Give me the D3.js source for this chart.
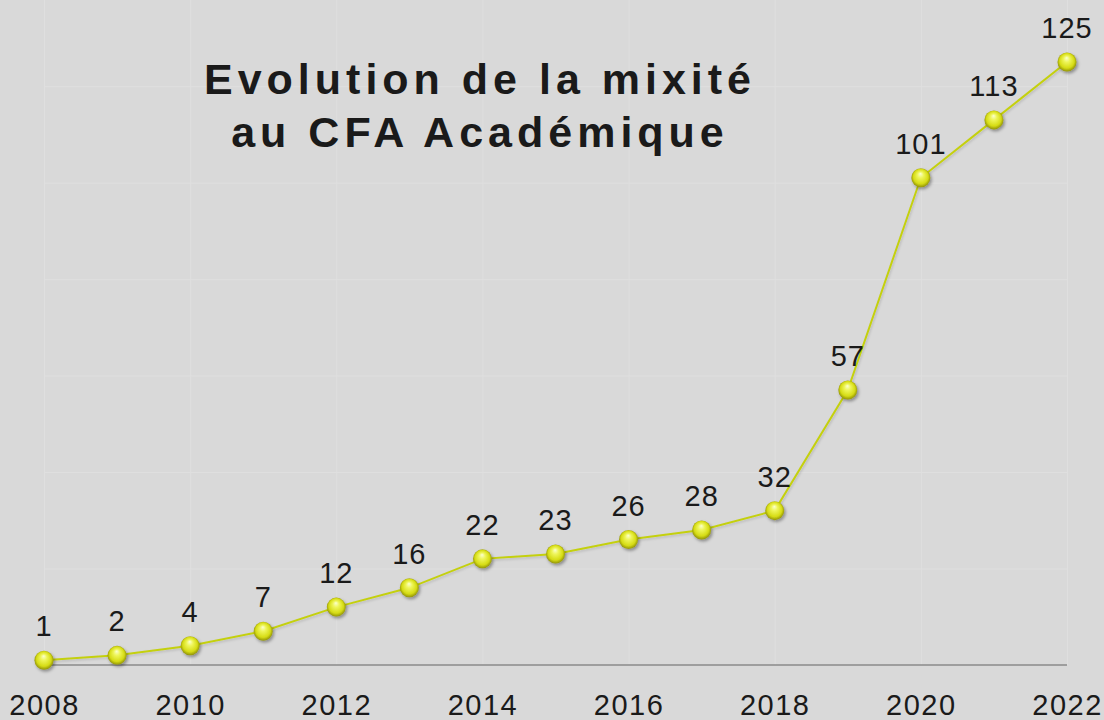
<!DOCTYPE html>
<html>
<head>
<meta charset="utf-8">
<script src="https://cdn.jsdelivr.net/npm/d3@7"></script>
<style>
  body { margin: 0; background: #d9d9d9; }
  svg { display: block; }
</style>
</head>
<body>
<div id="chart"></div>
<script>
// data
var years = [2008, 2009, 2010, 2011, 2012, 2013, 2014, 2015, 2016, 2017, 2018, 2019, 2020, 2021, 2022];
var values = [1, 2, 4, 7, 12, 16, 22, 23, 26, 28, 32, 57, 101, 113, 125];
var yearTicks = [2008, 2010, 2012, 2014, 2016, 2018, 2020, 2022];
var gridValues = [20, 40, 60, 80, 100, 120];
var titleLines = ["Evolution de la mixité", "au CFA Académique"];

var width = 1104, height = 720;

var svg = d3.select("#chart").append("svg")
    .attr("width", width)
    .attr("height", height);

svg.append("rect")
    .attr("width", width)
    .attr("height", height)
    .attr("fill", "#d9d9d9");

var defs = svg.append("defs");

var grad = defs.append("radialGradient")
    .attr("id", "ball")
    .attr("cx", "50%").attr("cy", "50%").attr("r", "55%")
    .attr("fx", "48%").attr("fy", "28%");
grad.append("stop").attr("offset", "0%").attr("stop-color", "#fbffd0");
grad.append("stop").attr("offset", "30%").attr("stop-color", "#eef55a");
grad.append("stop").attr("offset", "70%").attr("stop-color", "#d6dc14");
grad.append("stop").attr("offset", "100%").attr("stop-color", "#7e7e08");

var shadow = defs.append("filter")
    .attr("id", "shadow")
    .attr("x", "-50%").attr("y", "-50%")
    .attr("width", "200%").attr("height", "200%");
shadow.append("feDropShadow")
    .attr("dx", 1.5).attr("dy", 2)
    .attr("stdDeviation", 1.5)
    .attr("flood-color", "#000")
    .attr("flood-opacity", 0.35);

var lineShadow = defs.append("filter")
    .attr("id", "lineShadow")
    .attr("x", "-10%").attr("y", "-10%")
    .attr("width", "120%").attr("height", "120%");
lineShadow.append("feDropShadow")
    .attr("dx", 1).attr("dy", 1.5)
    .attr("stdDeviation", 1)
    .attr("flood-color", "#000")
    .attr("flood-opacity", 0.15);

var x = d3.scaleLinear()
    .domain([2008, 2022])
    .range([44, 1067]);

var y = d3.scaleLinear()
    .domain([0, 125])
    .range([665, 62]);

// vertical grid
svg.append("g")
    .attr("transform", "translate(0,665)")
    .call(d3.axisBottom(x).tickValues(yearTicks).tickSize(-700).tickFormat(""))
    .call(g => g.select(".domain").remove())
    .call(g => g.selectAll("line").attr("stroke", "#dfdfdf").attr("stroke-width", 1));

// horizontal grid
svg.append("g")
    .attr("transform", "translate(44,0)")
    .call(d3.axisLeft(y).tickValues(gridValues).tickSize(-(1067 - 44)).tickFormat(""))
    .call(g => g.select(".domain").remove())
    .call(g => g.selectAll("line").attr("stroke", "#dfdfdf").attr("stroke-width", 1));

// baseline
svg.append("line")
    .attr("x1", x(2008)).attr("x2", x(2022))
    .attr("y1", y(0)).attr("y2", y(0))
    .attr("stroke", "#8a8a8a")
    .attr("stroke-width", 1.5);

// year labels
svg.append("g")
    .attr("transform", "translate(0,665)")
    .call(d3.axisBottom(x).tickValues(yearTicks).tickSize(0).tickPadding(0).tickFormat(d3.format("d")))
    .call(g => g.select(".domain").remove())
    .call(g => g.selectAll("text")
        .attr("dy", null)
        .attr("y", 50)
        .attr("fill", "#1a1a1a")
        .style("font-family", "'Liberation Sans', Arial, sans-serif")
        .style("font-size", "29px")
        .style("letter-spacing", "1.5px"));

var line = d3.line()
    .x(function(d, i) { return x(years[i]); })
    .y(function(d) { return y(d); });

svg.append("path")
    .datum(values)
    .attr("d", line)
    .attr("fill", "none")
    .attr("stroke", "#c4d010")
    .attr("stroke-width", 2)
    .attr("filter", "url(#lineShadow)");

svg.selectAll(".dot")
    .data(values)
    .enter().append("circle")
    .attr("class", "dot")
    .attr("cx", function(d, i) { return x(years[i]); })
    .attr("cy", function(d) { return y(d); })
    .attr("r", 9.5)
    .attr("fill", "url(#ball)")
    .attr("filter", "url(#shadow)");

svg.selectAll(".label")
    .data(values)
    .enter().append("text")
    .attr("class", "label")
    .attr("x", function(d, i) { return x(years[i]); })
    .attr("y", function(d) { return y(d) - 24; })
    .attr("text-anchor", "middle")
    .attr("fill", "#1a1a1a")
    .style("font-family", "'Liberation Sans', Arial, sans-serif")
    .style("font-size", "29px")
    .style("letter-spacing", "1px")
    .text(function(d) { return d; });

// title, two lines
svg.append("text")
    .attr("class", "title")
    .attr("x", 480)
    .attr("y", 94)
    .attr("text-anchor", "middle")
    .attr("fill", "#1a1a1a")
    .style("font-family", "'Liberation Sans', Arial, sans-serif")
    .style("font-size", "43px")
    .style("font-weight", "bold")
    .style("letter-spacing", "5px")
    .selectAll("tspan")
    .data(titleLines)
    .enter().append("tspan")
    .attr("x", 480)
    .attr("dy", function(d, i) { return i === 0 ? 0 : 53; })
    .text(function(d) { return d; });
</script>
</body>
</html>
